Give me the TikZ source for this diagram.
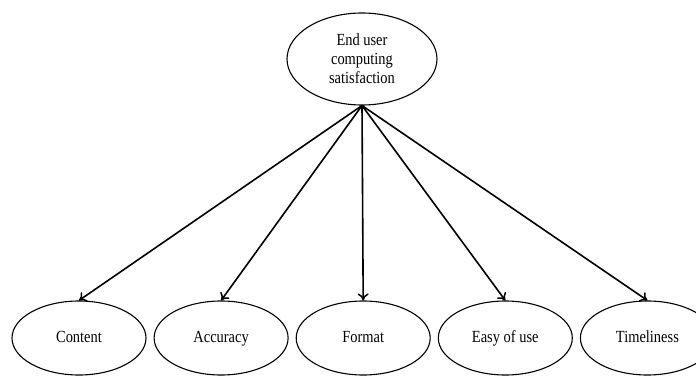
\documentclass[tikz,border=0pt]{standalone}
\usepackage{fontspec}
\setmainfont[FakeStretch=0.85]{Liberation Serif}
\usepackage{tikz}
\usetikzlibrary{arrows.meta,shapes.geometric,positioning}
\tikzstyle{oval} = [draw, ellipse, line width=1.1pt, inner sep=0pt,
    font=\fontsize{17}{19}\selectfont]
\tikzstyle{factor} = [oval, minimum width=134pt, minimum height=74pt,
    text height=12pt, text depth=4pt]
\tikzstyle{goal} = [oval, minimum width=150pt, minimum height=92pt, align=center]
\tikzstyle{link} = [-{To[length=7pt,width=11pt,line width=1.5pt]}, line width=1.6pt]

\begin{document}
\begin{tikzpicture}[x=1pt,y=1pt]
\useasboundingbox (0,0) rectangle (696,378);
\node [goal] (satisfaction) at (362,319) {End user\\computing\\satisfaction};
% the five dimensions
\node [factor] (content) at (79,40) {Content};
\node [factor, right=7pt of content] (accuracy) {Accuracy};
\node [factor, right=7pt of accuracy] (format) {Format};
\node [factor, right=7pt of format] (easyuse) {Easy of use};
\node [factor, right=7pt of easyuse] (timeliness) {Timeliness};
\foreach \n in {content,accuracy,format,easyuse,timeliness}
    \draw [link] (satisfaction.south) -- (\n.north);
\end{tikzpicture}
\end{document}
